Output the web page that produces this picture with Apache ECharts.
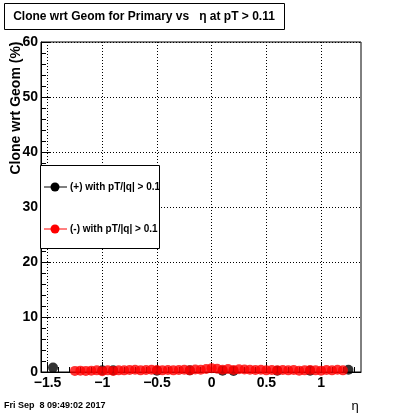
<!DOCTYPE html>
<html><head><meta charset="utf-8">
<script src="https://cdn.jsdelivr.net/npm/echarts@6/dist/echarts.min.js"></script>
<style>html,body{margin:0;padding:0;background:#fff}#c{width:400px;height:414px}</style>
</head><body><div id="c"></div>
<script>
// ---- data ----
const etaRed = [-1.25,-1.20,-1.15,-1.10,-1.05,-1.00,-0.95,-0.90,-0.85,-0.80,-0.75,-0.70,-0.65,-0.60,-0.55,-0.50,-0.45,-0.40,-0.35,-0.30,-0.25,-0.20,-0.15,-0.10,-0.05,0.00,0.05,0.10,0.15,0.20,0.25,0.30,0.35,0.40,0.45,0.50,0.55,0.60,0.65,0.70,0.75,0.80,0.85,0.90,0.95,1.00,1.05,1.10,1.15,1.20];
const valRed = [0.20,0.25,0.20,0.25,0.30,0.15,0.30,0.20,0.30,0.30,0.35,0.40,0.30,0.35,0.40,0.35,0.30,0.35,0.30,0.35,0.40,0.30,0.45,0.40,0.55,0.70,0.60,0.40,0.55,0.35,0.50,0.45,0.40,0.35,0.40,0.30,0.35,0.30,0.35,0.30,0.35,0.25,0.30,0.35,0.30,0.25,0.35,0.30,0.40,0.30];
const etaBlack = [-1.45,-1.00,-0.90,-0.50,-0.20,0.10,0.20,0.60,0.90,1.25];
const valBlack = [0.80,0.30,0.30,0.25,0.30,0.25,0.20,0.25,0.25,0.40];
const xMajor = [-1.5,-1.0,-0.5,0.0,0.5,1.0];
const xMinor = [-1.5,-1.4,-1.3,-1.2,-1.1,-1.0,-0.9,-0.8,-0.7,-0.6,-0.5,-0.4,-0.3,-0.2,-0.1,0.0,0.1,0.2,0.3,0.4,0.5,0.6,0.7,0.8,0.9,1.0,1.1,1.2,1.3];
const xMin = -1.56, xMax = 1.365;
const yMin = 0, yMax = 60, yStep = 10;
const titleText = 'Clone wrt Geom for Primary vs   \u03b7 at pT > 0.11';
const yTitle = 'Clone wrt Geom (%)';
const legendPlus = '(+) with pT/|q| > 0.1';
const legendMinus = '(-) with pT/|q| > 0.1';
const dateText = 'Fri Sep  8 09:49:02 2017';
const xTitle = '\u03b7';

const FONT = '"Liberation Sans", Arial, sans-serif';
const chart = echarts.init(document.getElementById('c'), null, {renderer: 'canvas'});
const fmt = v => (Math.abs(v) < 1e-9 ? '0' : String(+v.toFixed(2)).replace('-', '\u2212'));

chart.setOption({
  animation: false,
  backgroundColor: '#fff',
  grid: {left: 41, right: 39, top: 42, bottom: 42, show: true, borderColor: '#000', borderWidth: 1, backgroundColor: 'transparent'},
  xAxis: [{
    type: 'value', min: xMin, max: xMax, position: 'bottom',
    axisLine: {show: true, onZero: false, lineStyle: {color: '#000', width: 1}},
    axisTick: {show: true, inside: true, length: 10, lineStyle: {color: '#000'}, customValues: xMajor},
    axisLabel: {show: true, customValues: xMajor, formatter: fmt, color: '#000', fontFamily: FONT, fontWeight: 'bold', fontSize: 14, margin: 4},
    splitLine: {show: true, lineStyle: {color: '#000', type: [1, 2], width: 1}},
    minorTick: {show: false}
  }, {
    type: 'value', min: xMin, max: xMax, position: 'bottom',
    axisLine: {show: false, onZero: false},
    axisTick: {show: true, inside: true, length: 5, lineStyle: {color: '#000'}, customValues: xMinor},
    axisLabel: {show: false},
    splitLine: {show: false}
  }],
  yAxis: {
    type: 'value', min: yMin, max: yMax, interval: yStep, position: 'left',
    axisLine: {show: true, onZero: false, lineStyle: {color: '#000', width: 1}},
    axisTick: {show: true, inside: true, length: 9, lineStyle: {color: '#000'}},
    minorTick: {show: true, splitNumber: 5, length: 5, lineStyle: {color: '#000'}},
    axisLabel: {color: '#000', fontFamily: FONT, fontWeight: 'bold', fontSize: 14, margin: 3},
    splitLine: {show: true, lineStyle: {color: '#000', type: [1, 2], width: 1}}
  },
  series: [{
    name: 'plus', type: 'scatter', xAxisIndex: 0,
    data: etaBlack.map((x, i) => [x, valBlack[i]]),
    symbol: 'circle', symbolSize: 10, itemStyle: {color: '#000'}, z: 3, clip: false
  }, {
    name: 'minus', type: 'scatter', xAxisIndex: 0,
    data: etaRed.map((x, i) => [x, valRed[i]]),
    symbol: 'circle', symbolSize: 10, itemStyle: {color: '#ff0000'}, z: 4, clip: false
  }],
  graphic: [
    {type: 'rect', shape: {x: 4.5, y: 3.5, width: 280, height: 26}, style: {fill: '#fff', stroke: '#000', lineWidth: 1}},
    {type: 'text', x: 144, y: 16.5, style: {text: titleText, font: 'bold 12px ' + FONT, fill: '#000', align: 'center', verticalAlign: 'middle'}},
    {type: 'text', x: 16, y: 108, rotation: Math.PI / 2, style: {text: yTitle, font: 'bold 14px ' + FONT, fill: '#000', align: 'center', verticalAlign: 'middle'}},
    {type: 'rect', z: 10, shape: {x: 40.5, y: 165.5, width: 119, height: 83}, style: {fill: '#fff', stroke: '#000', lineWidth: 1}},
    {type: 'line', z: 11, shape: {x1: 44, y1: 187, x2: 67, y2: 187}, style: {stroke: '#000', lineWidth: 1}},
    {type: 'circle', z: 11, shape: {cx: 55, cy: 187, r: 4.5}, style: {fill: '#000'}},
    {type: 'text', z: 11, x: 70, y: 187, style: {text: legendPlus, font: 'bold 10px ' + FONT, fill: '#000', verticalAlign: 'middle'}},
    {type: 'line', z: 11, shape: {x1: 44, y1: 229, x2: 67, y2: 229}, style: {stroke: '#ff0000', lineWidth: 1}},
    {type: 'circle', z: 11, shape: {cx: 55, cy: 229, r: 4.5}, style: {fill: '#ff0000'}},
    {type: 'text', z: 11, x: 70, y: 229, style: {text: legendMinus, font: 'bold 10px ' + FONT, fill: '#000', verticalAlign: 'middle'}},
    {type: 'text', x: 4, y: 406, style: {text: dateText, font: 'bold 9px ' + FONT, fill: '#000', verticalAlign: 'middle'}},
    {type: 'text', x: 355, y: 406, style: {text: xTitle, font: '13px ' + FONT, fill: '#000', align: 'center', verticalAlign: 'middle'}}
  ]
});
</script></body></html>
